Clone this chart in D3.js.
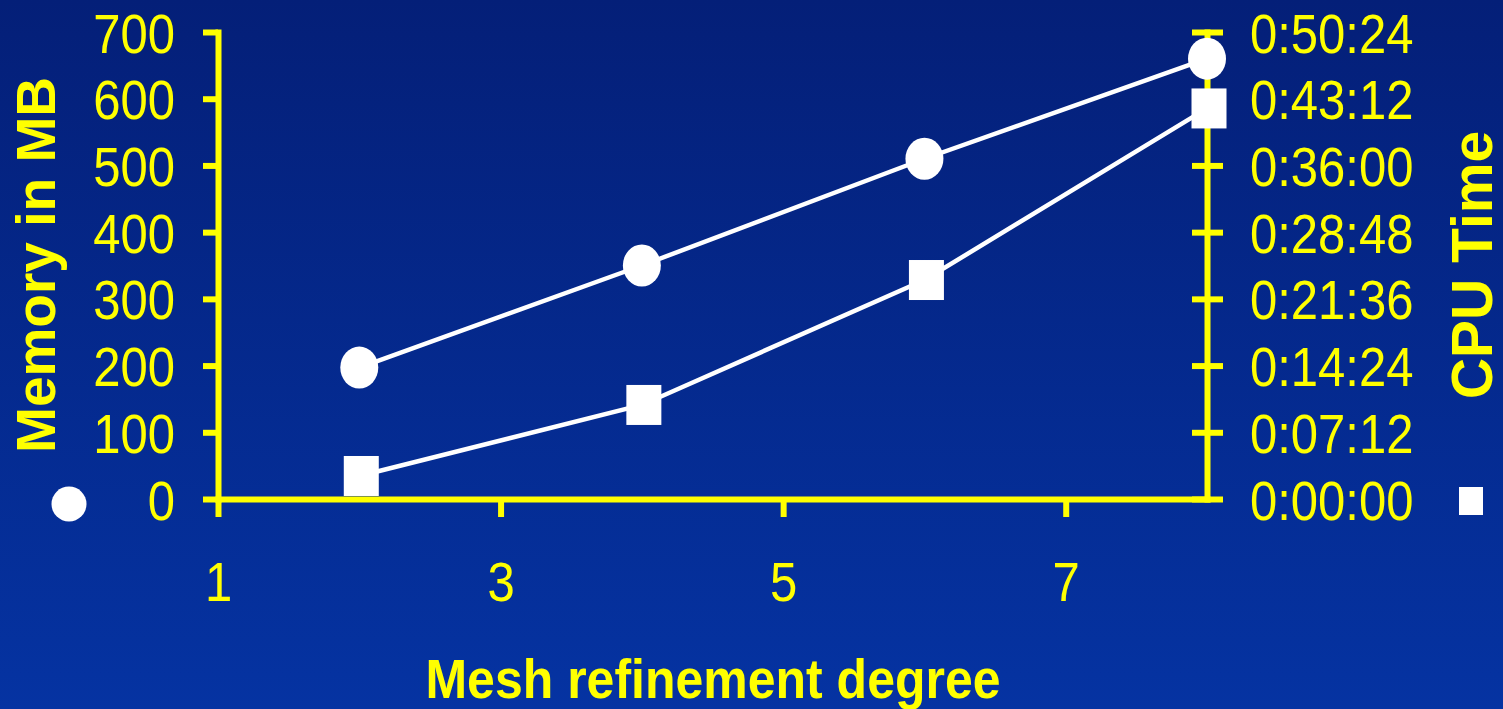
<!DOCTYPE html>
<html>
<head>
<meta charset="utf-8">
<script src="https://cdn.jsdelivr.net/npm/d3@7"></script>
<style>
  html, body { margin: 0; padding: 0; background: #03237f; }
  svg { display: block; }
  text { font-family: "Liberation Sans", Arial, Helvetica, sans-serif; }
</style>
</head>
<body>
<svg id="chart" width="1503" height="709"></svg>
<script>
// Mesh refinement degree on the x axis
const refinement = [2, 4, 6, 8];
// Memory use in MB (circles, left axis)
const memoryMB = [197, 350, 510, 660];
// CPU time as h:mm:ss (squares, right axis)
const cpuTime = ["0:02:29", "0:10:09", "0:23:38", "0:42:09"];

const xTicks = [1, 3, 5, 7];
const memTicks = [0, 100, 200, 300, 400, 500, 600, 700];
const timeTicks = ["0:00:00", "0:07:12", "0:14:24", "0:21:36", "0:28:48", "0:36:00", "0:43:12", "0:50:24"];

const toSec = s => s.split(":").map(Number).reduce((a, v) => a * 60 + v, 0);
const fmtTime = sec => {
  const h = Math.floor(sec / 3600), m = Math.floor(sec % 3600 / 60), s = Math.round(sec % 60);
  return h + ":" + String(m).padStart(2, "0") + ":" + String(s).padStart(2, "0");
};

const W = 1503, H = 709;
const YELLOW = "#ffff00";
const STRETCH = 1.14;   // labels are drawn slightly taller than wide
const svg = d3.select("#chart");

// Background gradient
const defs = svg.append("defs");
const grad = defs.append("linearGradient").attr("id", "bg").attr("x1", 0).attr("y1", 0).attr("x2", 0).attr("y2", 1);
grad.append("stop").attr("offset", "0%").attr("stop-color", "#041f78");
grad.append("stop").attr("offset", "100%").attr("stop-color", "#0533a2");
svg.append("rect").attr("width", W).attr("height", H).attr("fill", "url(#bg)");

const x = d3.scaleLinear().domain([1, 8]).range([218, 1207]);
const yMem = d3.scaleLinear().domain([0, 700]).range([499, 32]);
const yTime = d3.scaleLinear().domain([0, toSec(timeTicks[timeTicks.length - 1])]).range([499, 32]);

function styleAxis(g) {
  g.select(".domain").attr("stroke", YELLOW).attr("stroke-width", 6).attr("stroke-linecap", "square");
  g.selectAll(".tick line").attr("stroke", YELLOW).attr("stroke-width", 6);
  g.selectAll(".tick text")
    .attr("fill", YELLOW)
    .attr("font-size", 49)
    .attr("dy", null);
}

// Left axis: memory
const gL = svg.append("g").attr("transform", `translate(${x(1)},0)`)
  .call(d3.axisLeft(yMem).tickValues(memTicks).tickSize(15).tickSizeOuter(0).tickPadding(0).tickFormat(d3.format("d")));
styleAxis(gL);
gL.selectAll(".tick text")
  .attr("text-anchor", "end")
  .attr("x", null)
  .attr("transform", `translate(-43,20) scale(1,${STRETCH})`);

// Right axis: CPU time
const gR = svg.append("g").attr("transform", `translate(${x(8)},0)`)
  .call(d3.axisRight(yTime).tickValues(timeTicks.map(toSec)).tickSize(16).tickSizeOuter(0).tickPadding(0).tickFormat(fmtTime));
styleAxis(gR);
gR.selectAll(".tick line").attr("x1", -15);
gR.selectAll(".tick text")
  .attr("text-anchor", "start")
  .attr("x", null)
  .attr("transform", `translate(43,20) scale(1,${STRETCH})`);

// Bottom axis: refinement degree
const gB = svg.append("g").attr("transform", `translate(0,${yMem(0)})`)
  .call(d3.axisBottom(x).tickValues(xTicks).tickSize(18).tickSizeOuter(0).tickPadding(0).tickFormat(d3.format("d")));
styleAxis(gB);
gB.selectAll(".tick text")
  .attr("text-anchor", "middle")
  .attr("y", null)
  .attr("transform", `translate(0,102) scale(1,${STRETCH})`);

// Series lines
const memLine = d3.line().x((d, i) => x(refinement[i])).y(d => yMem(d));
const timeLine = d3.line().x((d, i) => x(refinement[i])).y(d => yTime(toSec(d)));

svg.append("path").datum(memoryMB).attr("d", memLine)
  .attr("fill", "none").attr("stroke", "#fff").attr("stroke-width", 4.5);
svg.append("path").datum(cpuTime).attr("d", timeLine)
  .attr("fill", "none").attr("stroke", "#fff").attr("stroke-width", 4.5);

// Markers
svg.append("g").selectAll("ellipse").data(memoryMB).join("ellipse")
  .attr("cx", (d, i) => x(refinement[i]))
  .attr("cy", d => yMem(d))
  .attr("rx", 19).attr("ry", 21)
  .attr("fill", "#fff");

const sqW = 35, sqH = 40;
svg.append("g").selectAll("rect").data(cpuTime).join("rect")
  .attr("x", (d, i) => x(refinement[i]) - sqW / 2 + 2)
  .attr("y", d => yTime(toSec(d)) - sqH / 2)
  .attr("width", sqW).attr("height", sqH)
  .attr("fill", "#fff");

// Axis titles
svg.append("text")
  .attr("transform", "translate(55,265) rotate(-90)")
  .attr("text-anchor", "middle")
  .attr("font-weight", "bold").attr("font-size", 55)
  .attr("fill", YELLOW)
  .text("Memory in MB");

svg.append("text")
  .attr("transform", "translate(1492,265) rotate(-90)")
  .attr("text-anchor", "middle")
  .attr("font-weight", "bold").attr("font-size", 57)
  .attr("fill", YELLOW)
  .text("CPU Time");

svg.append("text")
  .attr("transform", `translate(713,698) scale(1,1.12)`)
  .attr("text-anchor", "middle")
  .attr("font-weight", "bold").attr("font-size", 50)
  .attr("fill", YELLOW)
  .text("Mesh refinement degree");

// Series keys beside each axis
svg.append("circle").attr("cx", 69).attr("cy", 504).attr("r", 17.5).attr("fill", "#fff");
svg.append("rect").attr("x", 1459).attr("y", 487).attr("width", 24).attr("height", 28).attr("fill", "#fff");
</script>
</body>
</html>
